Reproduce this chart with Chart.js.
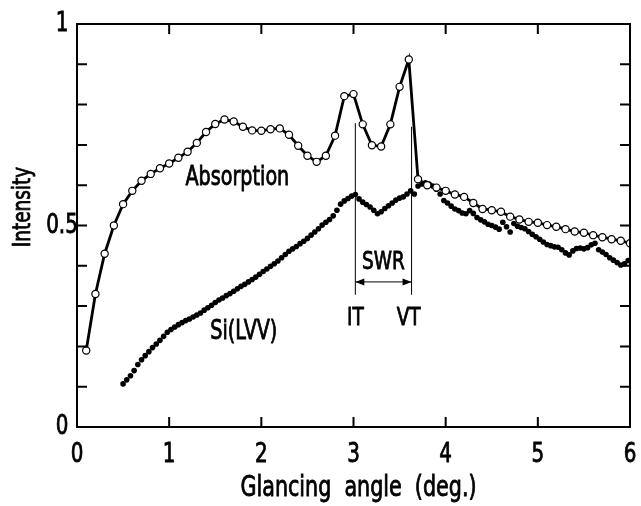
<!DOCTYPE html>
<html>
<head>
<meta charset="utf-8">
<script src="https://cdn.jsdelivr.net/npm/chart.js@4/dist/chart.umd.min.js"></script>
<style>
  html, body { margin: 0; padding: 0; background: #fff; }
  #wrap { width: 641px; height: 506px; }
</style>
</head>
<body>
<div id="wrap"><canvas id="angleChart"></canvas></div>
<script>
// Absorption (open circles), glancing angle in degrees
const absAngles = [
    0.1, 0.2, 0.3, 0.4, 0.5, 0.6, 0.7, 0.8, 0.9, 1.0,
    1.1, 1.2, 1.3, 1.4, 1.5, 1.6, 1.7, 1.8, 1.9, 2.0,
    2.1, 2.2, 2.3, 2.4, 2.5, 2.6, 2.7, 2.8, 2.9, 3.0,
    3.1, 3.2, 3.3, 3.4, 3.5, 3.6, 3.7, 3.8, 3.9, 4.0,
    4.1, 4.2, 4.3, 4.4, 4.5, 4.6, 4.7, 4.8, 4.9, 5.0,
    5.1, 5.2, 5.3, 5.4, 5.5, 5.6, 5.7, 5.8, 5.9, 6.0
];
const absIntensity = [
    0.190, 0.330, 0.430, 0.500, 0.553, 0.586, 0.611, 0.628, 0.642, 0.654,
    0.668, 0.683, 0.705, 0.732, 0.752, 0.763, 0.758, 0.745, 0.736, 0.735,
    0.739, 0.741, 0.725, 0.698, 0.673, 0.658, 0.673, 0.723, 0.821, 0.826,
    0.751, 0.699, 0.696, 0.751, 0.844, 0.912, 0.615, 0.600, 0.594, 0.586,
    0.577, 0.571, 0.556, 0.541, 0.538, 0.534, 0.522, 0.515, 0.509, 0.507,
    0.501, 0.497, 0.491, 0.485, 0.482, 0.476, 0.471, 0.466, 0.462, 0.456
];

// Si(LVV) Auger signal (filled dots)
const siAngles = [
    0.50, 0.54, 0.58, 0.62, 0.66, 0.70, 0.74, 0.78, 0.82, 0.86,
    0.90, 0.94, 0.98, 1.02, 1.06, 1.10, 1.14, 1.18, 1.22, 1.26,
    1.30, 1.34, 1.38, 1.42, 1.46, 1.50, 1.54, 1.58, 1.62, 1.66,
    1.70, 1.74, 1.78, 1.82, 1.86, 1.90, 1.94, 1.98, 2.02, 2.06,
    2.10, 2.14, 2.18, 2.22, 2.26, 2.30, 2.34, 2.38, 2.42, 2.46,
    2.50, 2.54, 2.58, 2.62, 2.66, 2.70, 2.74, 2.78, 2.82, 2.86,
    2.90, 2.94, 2.98, 3.02, 3.06, 3.10, 3.14, 3.18, 3.22, 3.26,
    3.30, 3.34, 3.38, 3.42, 3.46, 3.50, 3.54, 3.58, 3.62, 3.66,
    3.70, 3.74, 3.78, 3.82, 3.86, 3.90, 3.94, 3.98, 4.02, 4.06,
    4.10, 4.14, 4.18, 4.22, 4.26, 4.30, 4.34, 4.38, 4.42, 4.46,
    4.50, 4.54, 4.58, 4.62, 4.66, 4.70, 4.74, 4.78, 4.82, 4.86,
    4.90, 4.94, 4.98, 5.02, 5.06, 5.10, 5.14, 5.18, 5.22, 5.26,
    5.30, 5.34, 5.38, 5.42, 5.46, 5.50, 5.54, 5.58, 5.62, 5.66,
    5.70, 5.74, 5.78, 5.82, 5.86, 5.90, 5.94, 5.98
];
const siIntensity = [
    0.107, 0.117, 0.127, 0.140, 0.155, 0.167, 0.177, 0.187, 0.197, 0.206,
    0.215, 0.225, 0.235, 0.242, 0.248, 0.254, 0.259, 0.264, 0.268, 0.273,
    0.278, 0.283, 0.290, 0.296, 0.302, 0.309, 0.315, 0.320, 0.326, 0.331,
    0.337, 0.343, 0.349, 0.354, 0.360, 0.366, 0.372, 0.379, 0.386, 0.392,
    0.399, 0.405, 0.412, 0.420, 0.428, 0.436, 0.442, 0.448, 0.455, 0.461,
    0.468, 0.476, 0.484, 0.492, 0.501, 0.508, 0.515, 0.524, 0.538, 0.553,
    0.561, 0.567, 0.573, 0.577, 0.566, 0.558, 0.552, 0.546, 0.538, 0.529,
    0.534, 0.542, 0.549, 0.556, 0.563, 0.568, 0.571, 0.578, 0.586, 0.578,
    0.598, 0.603, 0.606, 0.603, 0.598, 0.590, 0.578, 0.562, 0.556, 0.548,
    0.541, 0.537, 0.531, 0.529, 0.537, 0.530, 0.520, 0.514, 0.509, 0.503,
    0.500, 0.496, 0.491, 0.508, 0.497, 0.484, 0.505, 0.498, 0.495, 0.492,
    0.485, 0.478, 0.472, 0.466, 0.459, 0.453, 0.450, 0.447, 0.446, 0.440,
    0.432, 0.427, 0.437, 0.443, 0.444, 0.442, 0.445, 0.452, 0.456, 0.440,
    0.434, 0.428, 0.420, 0.414, 0.408, 0.402, 0.405, 0.413
];

const xTickValues = [0, 1, 2, 3, 4, 5, 6];
const yTickLabels = ["0", "0.5", "1"];
const yTickValues = [0, 0.5, 1];
const yMinorTicks = [0.1, 0.2, 0.3, 0.4, 0.5, 0.6, 0.7, 0.8, 0.9];

// standing-wave region between the two transitions
const itAngle = 3.02;
const vtAngle = 3.63;

const FONT = '"DejaVu Sans Condensed", "Liberation Sans Narrow", "Roboto", sans-serif';

function toPoints(xs, ys) {
    return xs.map(function (x, i) { return { x: x, y: ys[i] }; });
}

// condensed gothic lettering: squeeze horizontally, thicken a little
function drawLabel(ctx, text, px, py, size, rot) {
    ctx.save();
    ctx.translate(px, py);
    if (rot) ctx.rotate(rot);
    ctx.scale(0.82, 1);
    ctx.font = size + "px " + FONT;
    ctx.textAlign = "center";
    ctx.textBaseline = "middle";
    ctx.lineWidth = 0.8;
    ctx.fillText(text, 0, 0);
    ctx.strokeText(text, 0, 0);
    ctx.restore();
}

function arrowHead(ctx, px, py, dir) {
    ctx.beginPath();
    ctx.moveTo(px, py);
    ctx.lineTo(px + dir * 9, py - 3.5);
    ctx.lineTo(px + dir * 9, py + 3.5);
    ctx.closePath();
    ctx.fill();
}

// frame, inward ticks, tick labels and the text annotations
const frameAndLabels = {
    id: "frameAndLabels",
    afterDraw(chart) {
        const ctx = chart.ctx;
        const a = chart.chartArea;
        const xs = chart.scales.x;
        const ys = chart.scales.y;

        ctx.save();
        ctx.strokeStyle = "#000";
        ctx.fillStyle = "#000";
        ctx.lineWidth = 2;
        ctx.strokeRect(a.left, a.top, a.right - a.left, a.bottom - a.top);

        ctx.beginPath();
        xTickValues.forEach(function (v) {
            const px = xs.getPixelForValue(v);
            ctx.moveTo(px, a.bottom);
            ctx.lineTo(px, a.bottom - 10);
            ctx.moveTo(px, a.top);
            ctx.lineTo(px, a.top + 10);
        });
        yMinorTicks.forEach(function (v) {
            const py = ys.getPixelForValue(v);
            ctx.moveTo(a.left, py);
            ctx.lineTo(a.left + 10, py);
            ctx.moveTo(a.right, py);
            ctx.lineTo(a.right - 10, py);
        });
        ctx.stroke();

        xTickValues.forEach(function (v) {
            drawLabel(ctx, String(v), xs.getPixelForValue(v), a.bottom + 28, 27);
        });
        yTickValues.forEach(function (v, i) {
            drawLabel(ctx, yTickLabels[i], a.left - 15, ys.getPixelForValue(v), 27);
        });

        drawLabel(ctx, "Glancing  angle  (deg.)", (a.left + a.right) / 2 + 5, a.bottom + 62, 28);
        drawLabel(ctx, "Intensity", 23, 207, 25, -Math.PI / 2);

        drawLabel(ctx, "Absorption", xs.getPixelForValue(1.74), ys.getPixelForValue(0.618), 26);
        drawLabel(ctx, "Si(LVV)", xs.getPixelForValue(1.81), ys.getPixelForValue(0.236), 26);

        // IT / VT markers with the SWR span arrow
        const pIT = xs.getPixelForValue(itAngle);
        const pVT = xs.getPixelForValue(vtAngle);
        ctx.lineWidth = 1;
        ctx.beginPath();
        ctx.moveTo(pIT, ys.getPixelForValue(0.754));
        ctx.lineTo(pIT, ys.getPixelForValue(0.328));
        ctx.moveTo(pVT, ys.getPixelForValue(0.745));
        ctx.lineTo(pVT, ys.getPixelForValue(0.328));
        const pArrow = ys.getPixelForValue(0.36);
        ctx.moveTo(pIT, pArrow);
        ctx.lineTo(pVT, pArrow);
        ctx.stroke();
        arrowHead(ctx, pIT, pArrow, 1);
        arrowHead(ctx, pVT, pArrow, -1);

        drawLabel(ctx, "SWR", (pIT + pVT) / 2, ys.getPixelForValue(0.407), 25);
        drawLabel(ctx, "IT", pIT, ys.getPixelForValue(0.27), 25);
        drawLabel(ctx, "VT", pVT - 3, ys.getPixelForValue(0.27), 25);
        ctx.restore();
    }
};

document.addEventListener("DOMContentLoaded", function () {
    const ctx = document.getElementById("angleChart").getContext("2d");

    new Chart(ctx, {
        type: "scatter",
        data: {
            datasets: [{
                label: "Absorption",
                data: toPoints(absAngles, absIntensity),
                showLine: true,
                borderColor: "#000",
                borderWidth: 2.8,
                pointRadius: 3.6,
                pointBackgroundColor: "#fff",
                pointBorderColor: "#000",
                pointBorderWidth: 1.2,
                tension: 0
            }, {
                label: "Si(LVV)",
                data: toPoints(siAngles, siIntensity),
                showLine: false,
                pointRadius: 2.8,
                pointBackgroundColor: "#000",
                pointBorderWidth: 0
            }]
        },
        options: {
            responsive: true,
            maintainAspectRatio: false,
            animation: false,
            layout: { padding: { left: 77, top: 24, right: 11, bottom: 79 } },
            scales: {
                x: { type: "linear", min: 0, max: 6, display: false },
                y: { type: "linear", min: 0, max: 1, display: false }
            },
            plugins: {
                legend: { display: false },
                tooltip: { enabled: false }
            }
        },
        plugins: [frameAndLabels]
    });
});
</script>
</body>
</html>
